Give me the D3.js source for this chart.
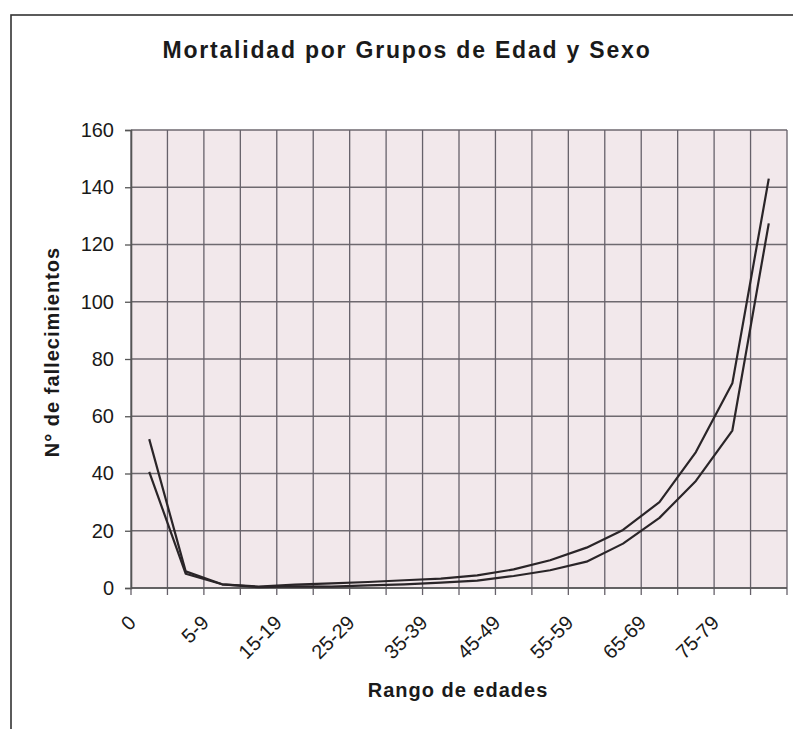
<!DOCTYPE html>
<html>
<head>
<meta charset="utf-8">
<script src="https://cdn.jsdelivr.net/npm/d3@7"></script>
<style>
  html, body { margin: 0; padding: 0; background: #ffffff; }
  svg { display: block; }
  text { font-family: "Liberation Sans", Arial, sans-serif; fill: #1a1a1a; }
</style>
</head>
<body>
<svg id="chart" width="793" height="729"></svg>
<script>
const categories = ["0","1-4","5-9","10-14","15-19","20-24","25-29","30-34","35-39","40-44","45-49","50-54","55-59","60-64","65-69","70-74","75-79","80+"];
const serieA = [52, 5.8, 1.3, 0.5, 1.2, 1.6, 2.1, 2.7, 3.3, 4.4, 6.5, 9.7, 14.1, 20.3, 30, 47.5, 71.5, 143];
const serieB = [40.6, 5.0, 1.3, 0.3, 0.6, 0.5, 0.9, 1.3, 1.9, 2.6, 4.2, 6.2, 9.2, 15.5, 24.5, 37.4, 55, 127.4];
const xTickLabels = ["0","5-9","15-19","25-29","35-39","45-49","55-59","65-69","75-79"];
const yTickValues = [0, 20, 40, 60, 80, 100, 120, 140, 160];
const titleText = "Mortalidad por Grupos de Edad y Sexo";
const yTitleText = "N° de fallecimientos";
const xTitleText = "Rango de edades";

const svg = d3.select("#chart");
const plot = { left: 131, right: 787, top: 130, bottom: 588 };

const x = d3.scaleBand().domain(categories).range([plot.left, plot.right]).paddingInner(0).paddingOuter(0);
const y = d3.scaleLinear().domain([0, 160]).range([plot.bottom, plot.top]);

// outer frame
svg.append("rect")
  .attr("x", 11).attr("y", 15).attr("width", 800).attr("height", 730)
  .attr("fill", "none").attr("stroke", "#333").attr("stroke-width", 1.6);

// plot background
svg.append("rect")
  .attr("x", plot.left).attr("y", plot.top)
  .attr("width", plot.right - plot.left).attr("height", plot.bottom - plot.top)
  .attr("fill", "#f2e8eb");

// horizontal gridlines
svg.append("g").selectAll("line").data(yTickValues).join("line")
  .attr("x1", plot.left).attr("x2", plot.right)
  .attr("y1", d => y(d)).attr("y2", d => y(d))
  .attr("stroke", "#6e696f").attr("stroke-width", 1.3);

// vertical gridlines at category boundaries
const boundaries = categories.map(c => x(c)).concat([x(categories[categories.length - 1]) + x.bandwidth()]);
svg.append("g").selectAll("line").data(boundaries).join("line")
  .attr("x1", d => d).attr("x2", d => d)
  .attr("y1", plot.top).attr("y2", plot.bottom + 7)
  .attr("stroke", "#66616a").attr("stroke-width", 1.3);

// y axis
const yAxis = d3.axisLeft(y).tickValues(yTickValues).tickSize(6).tickPadding(11);
const gy = svg.append("g").attr("transform", `translate(${plot.left},0)`).call(yAxis);
gy.select(".domain").attr("stroke", "#555").attr("stroke-width", 1.6);
gy.selectAll(".tick line").attr("stroke", "#555").attr("stroke-width", 1.3);
gy.selectAll(".tick text").attr("font-size", 20).attr("fill", "#1a1a1a")
  .attr("font-family", "Liberation Sans, Arial, sans-serif");

// x axis line
svg.append("line")
  .attr("x1", plot.left).attr("x2", plot.right)
  .attr("y1", plot.bottom).attr("y2", plot.bottom)
  .attr("stroke", "#555").attr("stroke-width", 1.6);

// x tick labels (rotated)
const xAxis = d3.axisBottom(x).tickValues(xTickLabels).tickSize(0).tickPadding(0);
const gx = svg.append("g").attr("transform", `translate(0,${plot.bottom})`).call(xAxis);
gx.select(".domain").remove();
gx.selectAll(".tick text")
  .attr("font-size", 20).attr("fill", "#1a1a1a")
  .attr("font-family", "Liberation Sans, Arial, sans-serif")
  .attr("text-anchor", "end")
  .attr("dy", null)
  .attr("y", 0)
  .attr("transform", "translate(-12,36) rotate(-45)");

// lines
const line = d3.line()
  .x((d, i) => x(categories[i]) + x.bandwidth() / 2)
  .y(d => y(d));

[serieA, serieB].forEach(s => {
  svg.append("path")
    .datum(s)
    .attr("d", line)
    .attr("fill", "none")
    .attr("stroke", "#2a2528")
    .attr("stroke-width", 2.2)
    .attr("stroke-linejoin", "round");
});

// titles
svg.append("text")
  .attr("x", 407).attr("y", 58)
  .attr("text-anchor", "middle")
  .attr("font-size", 23).attr("font-weight", "bold")
  .attr("letter-spacing", 1.8)
  .text(titleText);

svg.append("text")
  .attr("transform", "translate(59,352) rotate(-90)")
  .attr("text-anchor", "middle")
  .attr("font-size", 20).attr("font-weight", "bold")
  .attr("letter-spacing", 1)
  .text(yTitleText);

svg.append("text")
  .attr("x", 458).attr("y", 697)
  .attr("text-anchor", "middle")
  .attr("font-size", 20).attr("font-weight", "bold")
  .attr("letter-spacing", 1)
  .text(xTitleText);
</script>
</body>
</html>
